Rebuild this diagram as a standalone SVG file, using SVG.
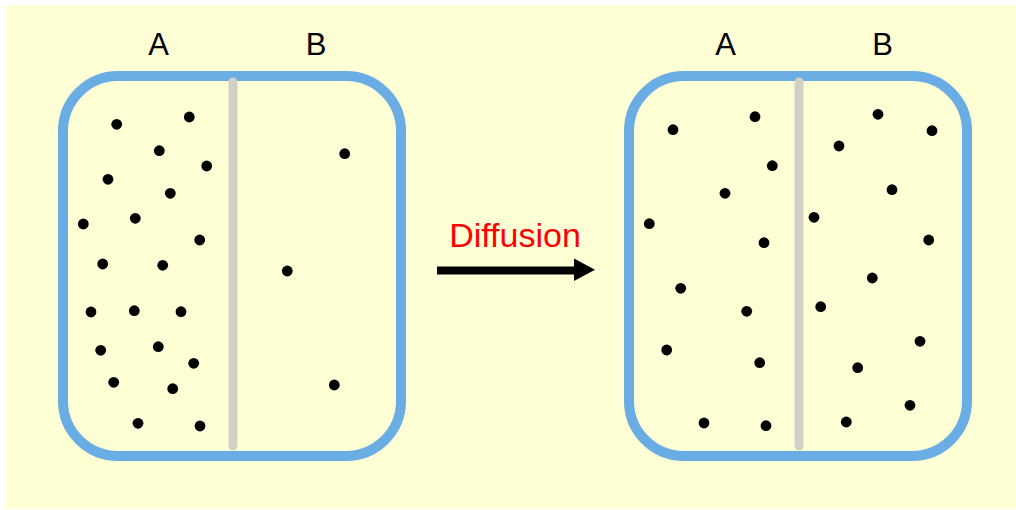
<svg xmlns="http://www.w3.org/2000/svg" width="1016" height="510" viewBox="0 0 1016 510">
<style>
.box{fill:#ffffd5;stroke:#6aade4;stroke-width:10}
.div{stroke:#d3d0c8;stroke-width:9;stroke-linecap:round}
.lbl{font-family:"Liberation Sans",Arial,sans-serif;font-size:31px;fill:#000;text-anchor:middle}
.dot circle{fill:#000}
</style>
<rect x="0" y="0" width="1016" height="510" fill="#ffffff"/>
<rect x="6" y="5" width="1010" height="504" fill="#ffffd5"/>
<g id="left-container">
<rect class="box" x="63" y="76" width="338" height="380" rx="55" ry="55"/>
<line class="div" x1="233" y1="82" x2="233" y2="446"/>
<text class="lbl" x="158.5" y="55">A</text>
<text class="lbl" x="316" y="55">B</text>
<g class="dot">
<circle cx="116.7" cy="124.3" r="5.4"/>
<circle cx="189.3" cy="117" r="5.4"/>
<circle cx="159.3" cy="150.7" r="5.4"/>
<circle cx="206.7" cy="166" r="5.4"/>
<circle cx="108" cy="179.3" r="5.4"/>
<circle cx="170.3" cy="193.3" r="5.4"/>
<circle cx="83.3" cy="224" r="5.4"/>
<circle cx="135.3" cy="218.3" r="5.4"/>
<circle cx="199.7" cy="240" r="5.4"/>
<circle cx="102.7" cy="264" r="5.4"/>
<circle cx="162.7" cy="265.3" r="5.4"/>
<circle cx="91" cy="312" r="5.4"/>
<circle cx="134.3" cy="310.7" r="5.4"/>
<circle cx="181" cy="311.7" r="5.4"/>
<circle cx="100.7" cy="350.3" r="5.4"/>
<circle cx="158.3" cy="346.7" r="5.4"/>
<circle cx="193.7" cy="363.3" r="5.4"/>
<circle cx="113.7" cy="382.3" r="5.4"/>
<circle cx="172.7" cy="388.7" r="5.4"/>
<circle cx="138" cy="423.3" r="5.4"/>
<circle cx="200" cy="426" r="5.4"/>
<circle cx="344.7" cy="153.7" r="5.4"/>
<circle cx="287.3" cy="271" r="5.4"/>
<circle cx="334.3" cy="385" r="5.4"/>
</g>
</g>
<g id="right-container">
<rect class="box" x="629" y="76" width="338" height="380" rx="55" ry="55"/>
<line class="div" x1="799" y1="82" x2="799" y2="446"/>
<text class="lbl" x="725.7" y="55">A</text>
<text class="lbl" x="882.7" y="55">B</text>
<g class="dot">
<circle cx="673" cy="129.7" r="5.4"/>
<circle cx="755" cy="116.7" r="5.4"/>
<circle cx="772.3" cy="165.7" r="5.4"/>
<circle cx="725" cy="193.3" r="5.4"/>
<circle cx="649.3" cy="223.7" r="5.4"/>
<circle cx="764" cy="242.7" r="5.4"/>
<circle cx="878" cy="114.3" r="5.4"/>
<circle cx="932" cy="130.7" r="5.4"/>
<circle cx="839" cy="146" r="5.4"/>
<circle cx="892" cy="189.7" r="5.4"/>
<circle cx="814" cy="217.3" r="5.4"/>
<circle cx="928.7" cy="240" r="5.4"/>
<circle cx="680.7" cy="288.3" r="5.4"/>
<circle cx="746.7" cy="311.3" r="5.4"/>
<circle cx="666.7" cy="350" r="5.4"/>
<circle cx="759.7" cy="362.7" r="5.4"/>
<circle cx="704" cy="423" r="5.4"/>
<circle cx="766" cy="425.7" r="5.4"/>
<circle cx="872.3" cy="278" r="5.4"/>
<circle cx="820.7" cy="306.7" r="5.4"/>
<circle cx="920" cy="341.3" r="5.4"/>
<circle cx="857.7" cy="367.7" r="5.4"/>
<circle cx="910" cy="405.3" r="5.4"/>
<circle cx="846.3" cy="422" r="5.4"/>
</g>
</g>
<g id="connectors">
<line x1="437" y1="270.5" x2="577" y2="270.5" stroke="#000" stroke-width="8"/>
<polygon points="574,258.5 595,269.8 574,281" fill="#000"/>
<text x="515" y="246.7" font-family="Liberation Sans, Arial, sans-serif" font-size="34" fill="#ff0000" text-anchor="middle">Diffusion</text>
</g>
</svg>
